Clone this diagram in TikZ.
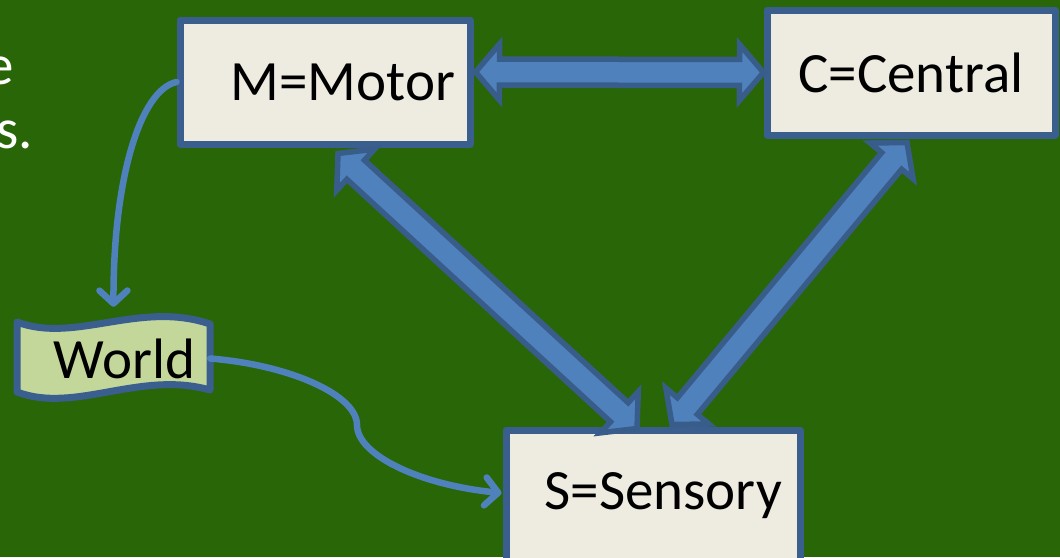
\documentclass[tikz,border=0pt]{standalone}
\usepackage{fontspec}
\setmainfont{Carlito}
\usetikzlibrary{calc,arrows.meta}
\definecolor{bggreen}{RGB}{41,102,8}
\definecolor{boxfill}{HTML}{EEECE1}
\definecolor{boxline}{HTML}{3A5F8E}
\definecolor{arrfill}{HTML}{4F81BD}
\definecolor{arrline}{HTML}{385D8A}
\definecolor{worldfill}{HTML}{C4D79B}
\tikzset{
  bigtext/.style={font=\fontsize{57}{68}\selectfont},
  mainbox/.style={draw=boxline, fill=boxfill, line width=7pt, line join=round,
    inner sep=0pt, bigtext, text=black},
  blockarr/.style={draw=arrline, fill=arrfill, line width=5.5pt, line join=miter},
  curvearr/.style={draw=arrfill, line width=6.5pt, line cap=round,
    -{Straight Barb[length=13pt,width=28pt,round]}},
}
\newcommand\blockarrow[2]{%
  \coordinate (ba1) at ($(#1)!24pt!(#2)$);
  \coordinate (ba2) at ($(#2)!24pt!(#1)$);
  \draw[blockarr] (#1) -- ($(ba1)!28pt!90:(#2)$) -- ($(ba1)!13pt!90:(#2)$)
    -- ($(ba2)!13pt!-90:(#1)$) -- ($(ba2)!28pt!-90:(#1)$) -- (#2)
    -- ($(ba2)!28pt!90:(#1)$) -- ($(ba2)!13pt!90:(#1)$)
    -- ($(ba1)!13pt!-90:(#2)$) -- ($(ba1)!28pt!-90:(#2)$) -- cycle;}
\begin{document}
\begin{tikzpicture}[x=1pt,y=-1pt]
\useasboundingbox (0,0) rectangle (1060,557);
\fill[bggreen] (0,0) rectangle (1060,557);
% cut-off text at the left edge
\node[bigtext, text=white, anchor=base east, inner sep=0pt] (t1) at (14,84) {e};
\node[bigtext, text=white, anchor=base east, inner sep=0pt] (t2) at (33,148) {s.};
% boxes
\node[mainbox, minimum width=290, minimum height=124, text width=260, align=right] (M) at (325,82) {M=Motor};
\node[mainbox, minimum width=288, minimum height=125, text width=258, align=center] (C) at (911,72.5) {C=Central};
\node[mainbox, minimum width=294, minimum height=132, text width=258, align=right] (S) at (653,496) {S=Sensory};
% World (wave shape)
\node[inner sep=0pt, minimum width=193, minimum height=77] (W) at (113.5,358.5) {};
\draw[draw=boxline, fill=worldfill, line width=7pt, line join=round]
  (17,322) .. controls (75,344) and (140,300) .. (210,324)
  -- (210,390) .. controls (140,370) and (75,414) .. (17,392) -- cycle;
\node[inner sep=0pt, minimum width=193, minimum height=77, text width=163, align=right, bigtext] (Wt) at (W.center) {World};
% block arrows
\coordinate (mc1) at ($(M.east)+(2,-10)$);
\coordinate (mc2) at (C.west);
\coordinate (ms1) at ($(M.south)+(13,6)$);
\coordinate (ms2) at ($(S.north)+(-16,2)$);
\coordinate (cs1) at ($(C.south)+(-4,4)$);
\coordinate (cs2) at ($(S.north)+(19,-2)$);
\blockarrow{mc1}{mc2}
\blockarrow{ms1}{ms2}
\blockarrow{cs1}{cs2}
% thin curved arrows
\coordinate (wt) at ($(W.north)+(0,-13)$);
\draw[curvearr] (M.west) .. controls (140,90) and (113,180) .. (wt);
\coordinate (sw) at ($(S.west)+(-1,-3)$);
\draw[curvearr] (W.east) .. controls (290,365) and (357,395) .. (357,425)
  .. controls (357,455) and (420,485) .. (sw);
\end{tikzpicture}
\end{document}
